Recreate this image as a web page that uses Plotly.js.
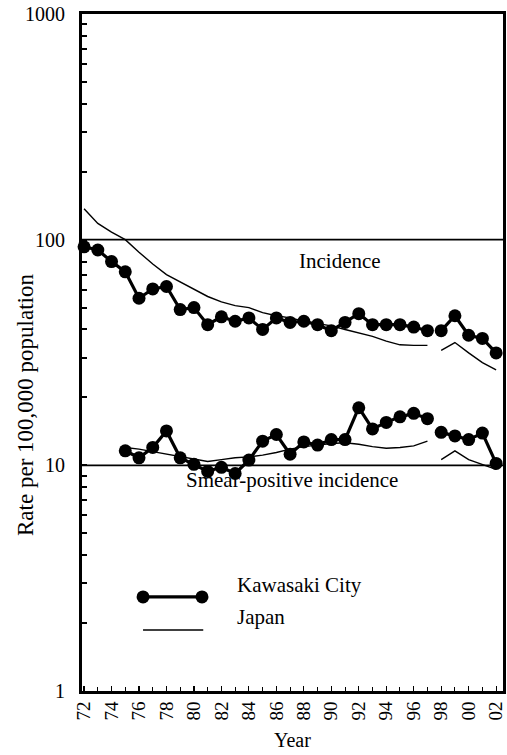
<!DOCTYPE html>
<html>
<head>
<meta charset="utf-8">
<script src="https://cdn.plot.ly/plotly-3.0.1.min.js"></script>
<style>
html,body{margin:0;padding:0;background:#fff;font-family:'Liberation Serif', serif;}
#chart{width:507px;height:755px;}
#chart svg text{font-family:'Liberation Serif', serif !important;}
#fontwarm{position:absolute;left:300px;top:100px;font-family:'Liberation Serif', serif;font-size:19px;color:#fff;z-index:-1;}
</style>
</head>
<body>
<div id="fontwarm">Kawasaki 0123456789</div>
<div id="chart"></div>
<script>
// ---- Data ----
// Incidence (all TB), rate per 100,000
const yearsA = [1972,1973,1974,1975,1976,1977,1978,1979,1980,1981,1982,1983,1984,1985,1986,1987,1988,1989,1990,1991,1992,1993,1994,1995,1996,1997];
const yearsB = [1998,1999,2000,2001,2002];
const kawaIncA = [93,90,80,72,55,60.5,62,49,50,42,45.5,43.5,45,40,45,43,43.5,42,39.5,43,47,42,42,42,41,39.5];
const kawaIncB = [39.5,46,37.7,36.5,31.5];
const japanIncA = [137,118,108,100,88,78,70,65,60,56,53,51,50,47.5,46,45,43.5,42.5,41.5,40,38.5,37.3,35.5,34.2,34,34];
const japanIncB = [32.3,35,31.5,28.5,26.5];
// Smear-positive incidence
const smearYearsA = [1975,1976,1977,1978,1979,1980,1981,1982,1983,1984,1985,1986,1987,1988,1989,1990,1991,1992,1993,1994,1995,1996,1997];
const kawaSmearA = [11.6,10.8,12,14.2,10.8,10.1,9.4,9.8,9.2,10.55,12.8,13.7,11.2,12.7,12.3,13,13,18,14.5,15.5,16.4,17,16.1];
const kawaSmearB = [14,13.5,13,13.9,10.2];
const japanSmearA = [12.0,11.8,11.5,11.2,10.9,10.6,10.4,10.6,10.8,10.9,11.1,11.4,11.8,12.1,12.3,12.5,12.6,12.4,12.1,11.9,12.0,12.2,12.8];
const japanSmearB = [10.6,11.6,10.6,10.1,9.6];
// Axis labels
const xTickVals = [1972,1974,1976,1978,1980,1982,1984,1986,1988,1990,1992,1994,1996,1998,2000,2002];
const xTickText = ["72","74","76","78","80","82","84","86","88","90","92","94","96","98","00","02"];
const yTickVals = [1,10,100,1000];
const yTickText = ["1","10","100","1000"];
const yMinorVals = [2,3,4,5,6,7,8,9,20,30,40,50,60,70,80,90,200,300,400,500,600,700,800,900];
const refLevels = [100,10];

const FONT = "Liberation Serif";

function kawa(x, y){
  return {x:x, y:y, type:'scatter', mode:'lines+markers', showlegend:false, cliponaxis:false,
    line:{color:'#000', width:3.2}, marker:{color:'#000', size:13}};
}
function japan(x, y){
  return {x:x, y:y, type:'scatter', mode:'lines', showlegend:false,
    line:{color:'#000', width:1.4}};
}
const traces = [
  japan(yearsA, japanIncA), japan(yearsB, japanIncB),
  japan(smearYearsA, japanSmearA), japan(yearsB, japanSmearB),
  kawa(yearsA, kawaIncA), kawa(yearsB, kawaIncB),
  kawa(smearYearsA, kawaSmearA), kawa(yearsB, kawaSmearB)
];

const shapes = refLevels.map(v => ({type:'line', xref:'paper', yref:'y', x0:0, x1:1,
  y0:v, y1:v, line:{color:'#000', width:1.6}, layer:'below'}));
// legend drawing
const legY1 = 0.139, legY2 = 0.090, legX0 = 0.145, legX1 = 0.285;
shapes.push({type:'line', xref:'paper', yref:'paper', x0:legX0, x1:legX1, y0:legY1, y1:legY1, line:{color:'#000', width:3.2}});
shapes.push({type:'line', xref:'paper', yref:'paper', x0:legX0, x1:legX1+0.003, y0:legY2, y1:legY2, line:{color:'#000', width:1.4}});
[legX0, legX1].forEach(px => {
  shapes.push({type:'circle', xref:'paper', yref:'paper', xsizemode:'pixel', ysizemode:'pixel',
    xanchor:px, yanchor:legY1, x0:-6.5, x1:6.5, y0:-6.5, y1:6.5,
    fillcolor:'#000', line:{color:'#000', width:0}});
});

const annFont = {family:FONT, size:21, color:'#000'};
const annotations = [
  {text:'Incidence', xref:'paper', yref:'paper', x:0.613, y:0.635, showarrow:false, font:{...annFont}},
  {text:'Smear-positive incidence', xref:'paper', yref:'paper', x:0.499, y:0.291, showarrow:false, font:{...annFont}},
  {text:'Kawasaki City', xref:'paper', yref:'paper', x:0.363, y:0.136, xanchor:'left', showarrow:false, font:{...annFont}},
  {text:'Japan', xref:'paper', yref:'paper', x:0.363, y:0.088, xanchor:'left', showarrow:false, font:{...annFont}},
  {text:'Rate per 100,000 population', xref:'paper', yref:'paper', x:-0.133, y:0.4225, xanchor:'center', yanchor:'middle',
    textangle:-90, showarrow:false, font:{family:FONT, size:23, color:'#000'}},
  {text:'Year', xref:'paper', yref:'paper', x:0.5, y:-0.073, xanchor:'center', yanchor:'middle',
    showarrow:false, font:{family:FONT, size:20, color:'#000'}}
];

const layout = {
  width:507, height:755,
  margin:{l:82, r:4, t:14, b:64},
  paper_bgcolor:'#fff', plot_bgcolor:'#fff',
  showlegend:false,
  font:{family:FONT, color:'#000', size:19},
  xaxis:{
    range:[1971.85, 2002.5], showgrid:false, zeroline:false,
    showline:true, linecolor:'#000', linewidth:3, mirror:true,
    tickmode:'array', tickvals:xTickVals, ticktext:xTickText, tickangle:-90,
    ticks:'inside', ticklen:5, tickwidth:1.2, tickcolor:'#000',
    tickfont:{family:FONT, size:19, color:'#000'},
    minor:{dtick:1, tick0:1972, ticks:'inside', ticklen:4, tickwidth:1, tickcolor:'#000'}
  },
  yaxis:{
    type:'log', range:[0,3], showgrid:false, zeroline:false,
    showline:true, linecolor:'#000', linewidth:3, mirror:true,
    tickmode:'array', tickvals:yTickVals, ticktext:yTickText,
    ticks:'inside', ticklen:5, tickwidth:2, tickcolor:'#000',
    ticklabelstandoff:10,
    tickfont:{family:FONT, size:20, color:'#000'},
    minor:{tickmode:'array', tickvals:yMinorVals, ticks:'inside', ticklen:5, tickwidth:2, tickcolor:'#000'}
  },
  shapes:shapes,
  annotations:annotations
};

Plotly.newPlot('chart', traces, layout, {staticPlot:true, displayModeBar:false});
</script>
</body>
</html>
